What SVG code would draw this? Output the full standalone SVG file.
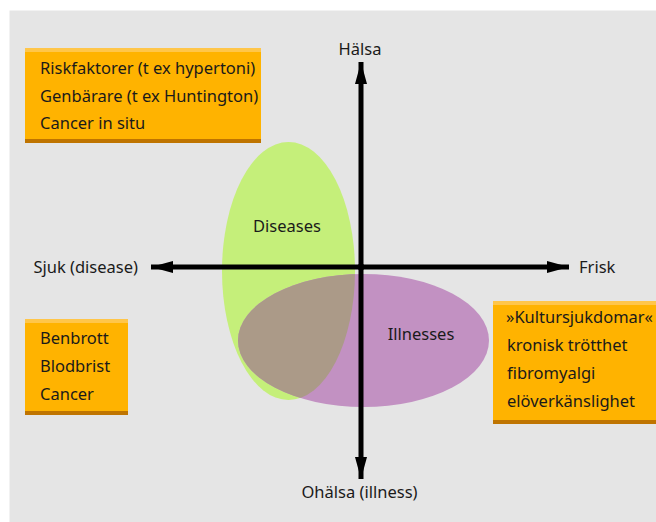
<svg xmlns="http://www.w3.org/2000/svg" width="656" height="522" viewBox="0 0 656 522">
<style>
text{font-family:"Noto Sans","Open Sans","DejaVu Sans",sans-serif;font-size:16.5px;fill:#1a1a1a}
.box{fill:#ffb300}
.top{fill:#ffc64a}
.bot{fill:#bf7400}
.ax{stroke:#000;stroke-width:5;fill:none}
</style>
<defs>
<clipPath id="clipP"><ellipse cx="363.5" cy="340.5" rx="125.5" ry="66.5"/></clipPath>
<marker id="ah" viewBox="0 0 22 12" refX="22" refY="6" markerUnits="userSpaceOnUse" markerWidth="22" markerHeight="12" orient="auto"><path d="M0,0 L22,6 L0,12 Z" fill="#000"/></marker>
</defs>
<rect x="0" y="0" width="656" height="522" fill="#fff"/>
<rect x="9.5" y="10.5" width="647" height="512" fill="#e5e5e5"/>
<g id="diseases">
<ellipse cx="288.5" cy="271" rx="66.5" ry="129" fill="#c5ef7a"/>
</g>
<g id="illnesses">
<ellipse cx="363.5" cy="340.5" rx="125.5" ry="66.5" fill="#c291c2"/>
<ellipse cx="288.5" cy="271" rx="66.5" ry="129" fill="#ab9a88" clip-path="url(#clipP)"/>
</g>
<g id="connectors">
<line class="ax" x1="357" y1="267" x2="151" y2="267" marker-end="url(#ah)"/>
<line class="ax" x1="357" y1="267" x2="569" y2="267" marker-end="url(#ah)"/>
<line class="ax" x1="361" y1="270" x2="361" y2="62" marker-end="url(#ah)"/>
<line class="ax" x1="361" y1="264" x2="361" y2="479" marker-end="url(#ah)"/>
</g>
<text x="287" y="232" text-anchor="middle">Diseases</text>
<text x="421" y="340" text-anchor="middle">Illnesses</text>
<g id="halsa"><text x="360" y="55" text-anchor="middle">Hälsa</text></g>
<g id="ohalsa"><text x="359.5" y="498" text-anchor="middle">Ohälsa (illness)</text></g>
<g id="sjuk"><text x="138" y="273" text-anchor="end">Sjuk (disease)</text></g>
<g id="frisk"><text x="579" y="273">Frisk</text></g>
<g id="box1">
<rect class="box" x="25" y="48" width="236" height="95"/>
<rect class="top" x="25" y="48" width="236" height="4"/>
<rect class="bot" x="25" y="139" width="236" height="4"/>
<text x="40" y="74">Riskfaktorer (t ex hypertoni)</text>
<text x="40" y="102">Genbärare (t ex Huntington)</text>
<text x="40" y="129">Cancer in situ</text>
</g>
<g id="box2">
<rect class="box" x="25" y="319" width="103" height="96"/>
<rect class="top" x="25" y="319" width="103" height="4"/>
<rect class="bot" x="25" y="411" width="103" height="4"/>
<text x="40" y="344">Benbrott</text>
<text x="40" y="372">Blodbrist</text>
<text x="40" y="400">Cancer</text>
</g>
<g id="box3">
<rect class="box" x="493" y="301" width="163" height="123"/>
<rect class="top" x="493" y="301" width="163" height="4"/>
<rect class="bot" x="493" y="420" width="163" height="4"/>
<text x="506" y="323" textLength="147" lengthAdjust="spacingAndGlyphs">»Kultursjukdomar«</text>
<text x="507" y="351">kronisk trötthet</text>
<text x="507" y="379">fibromyalgi</text>
<text x="507" y="407">elöverkänslighet</text>
</g>
</svg>
